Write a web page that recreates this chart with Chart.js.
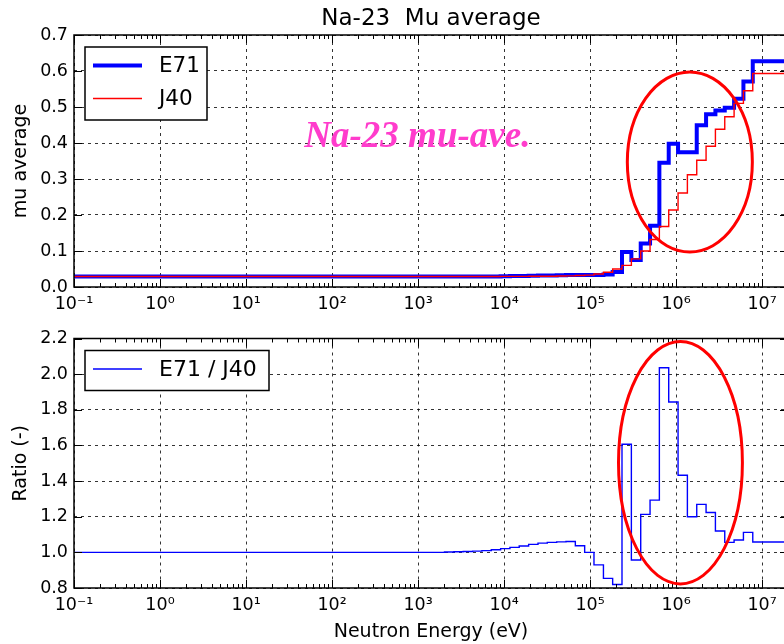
<!DOCTYPE html>
<html><head><meta charset="utf-8">
<script src="https://cdn.jsdelivr.net/npm/chart.js@4.4.1/dist/chart.umd.min.js"></script>
<style>
html,body{margin:0;padding:0;background:#fff;overflow:hidden;width:784px;height:644px;}
canvas{position:absolute;left:0;}
#top{top:0}
#bot{top:322px}
</style></head><body>
<canvas id="top" width="820" height="322"></canvas>
<canvas id="bot" width="820" height="322"></canvas>
<script>
// ---- data ----
// lower energy edges of each group (eV), plus the final upper edge
const groupEdges = [0.1, 1.0e3, 2.03e3, 2.61e3, 3.35e3, 4.31e3, 5.53e3, 7.10e3, 9.12e3,
  1.17e4, 1.50e4, 1.93e4, 2.48e4, 3.18e4, 4.09e4, 5.25e4, 6.74e4, 8.65e4,
  1.11e5, 1.43e5, 1.83e5, 2.35e5, 3.02e5, 3.88e5, 4.98e5, 6.39e5, 8.21e5,
  1.054e6, 1.353e6, 1.738e6, 2.231e6, 2.865e6, 3.679e6, 4.724e6, 6.065e6, 7.788e6, 2.0e7];
const muE71 = [0.029, 0.029, 0.029, 0.029, 0.029, 0.029, 0.029, 0.0295, 0.030,
  0.0303, 0.0306, 0.0313, 0.0316, 0.0317, 0.0323, 0.033, 0.033, 0.033,
  0.0335, 0.035, 0.042, 0.097, 0.075, 0.121, 0.170, 0.345, 0.398,
  0.374, 0.374, 0.449, 0.480, 0.490, 0.498, 0.523, 0.571, 0.627];
const muJ40 = [0.029, 0.029, 0.029, 0.029, 0.029, 0.029, 0.029, 0.029, 0.0295,
  0.0295, 0.0295, 0.030, 0.030, 0.030, 0.0305, 0.031, 0.032, 0.033,
  0.036, 0.041, 0.050, 0.060, 0.078, 0.100, 0.132, 0.168, 0.214,
  0.261, 0.312, 0.352, 0.391, 0.438, 0.473, 0.510, 0.545, 0.593];
const ratioE71J40 = [1.0, 1.0, 1.002, 1.003, 1.005, 1.007, 1.010, 1.015, 1.021,
  1.028, 1.036, 1.045, 1.052, 1.056, 1.059, 1.061, 1.037, 1.0,
  0.93, 0.854, 0.82, 1.607, 0.957, 1.213, 1.293, 2.036, 1.844,
  1.433, 1.2, 1.269, 1.224, 1.12, 1.056, 1.069, 1.112, 1.058];
const xTickValues = [0.1, 1, 10, 100, 1e3, 1e4, 1e5, 1e6, 1e7];
const xTickLabels = ['10\u207B\u00B9', '10\u2070', '10\u00B9', '10\u00B2', '10\u00B3', '10\u2074', '10\u2075', '10\u2076', '10\u2077'];
const muTicks = [0.0, 0.1, 0.2, 0.3, 0.4, 0.5, 0.6, 0.7];
const ratioTicks = [0.8, 1.0, 1.2, 1.4, 1.6, 1.8, 2.0, 2.2];
const xMin = 0.1, xMax = 2.0e7;

// ---- helpers ----
function steps(values) {
  const pts = values.map((v, i) => ({x: groupEdges[i], y: v}));
  pts.push({x: groupEdges[groupEdges.length - 1], y: values[values.length - 1]});
  return pts;
}
Chart.defaults.font.family = "'DejaVu Sans', sans-serif";
Chart.defaults.color = '#000';
Chart.defaults.animation = false;

const framePlugin = {
  id: 'frame',
  afterDatasetsDraw(chart) {
    const {ctx, chartArea: a, scales} = chart;
    const xs = scales.x, ys = scales.y;
    ctx.save();
    ctx.strokeStyle = '#000';
    ctx.lineWidth = 1;
    ctx.beginPath();
    for (let k = -1; k <= 7; k++) {
      for (let m = 2; m <= 9; m++) {
        const v = m * Math.pow(10, k);
        if (v >= xMax) continue;
        const px = Math.round(xs.getPixelForValue(v)) + 0.5;
        ctx.moveTo(px, a.bottom); ctx.lineTo(px, a.bottom - 4);
        ctx.moveTo(px, a.top); ctx.lineTo(px, a.top + 4);
      }
    }
    xTickValues.forEach(v => {
      const px = Math.round(xs.getPixelForValue(v)) + 0.5;
      ctx.moveTo(px, a.bottom); ctx.lineTo(px, a.bottom - 8);
      ctx.moveTo(px, a.top); ctx.lineTo(px, a.top + 8);
    });
    ys.ticks.forEach(t => {
      const py = Math.round(ys.getPixelForValue(t.value)) + 0.5;
      ctx.moveTo(a.left, py); ctx.lineTo(a.left + 8, py);
      ctx.moveTo(a.right, py); ctx.lineTo(a.right - 8, py);
    });
    ctx.stroke();
    ctx.lineWidth = 1.5;
    ctx.strokeRect(a.left, a.top, a.right - a.left, a.bottom - a.top);
    ctx.restore();
  }
};

const ellipsePlugin = {
  id: 'ellipse',
  afterDatasetsDraw(chart, args, opts) {
    const {ctx, scales} = chart;
    const x0 = scales.x.getPixelForValue(opts.xFrom), x1 = scales.x.getPixelForValue(opts.xTo);
    const y0 = scales.y.getPixelForValue(opts.yFrom), y1 = scales.y.getPixelForValue(opts.yTo);
    ctx.save();
    ctx.strokeStyle = '#ff0000';
    ctx.lineWidth = 3;
    ctx.beginPath();
    ctx.ellipse((x0 + x1) / 2, (y0 + y1) / 2, Math.abs(x1 - x0) / 2, Math.abs(y1 - y0) / 2, 0, 0, Math.PI * 2);
    ctx.stroke();
    ctx.restore();
  }
};

const boxLegendPlugin = {
  id: 'boxLegend',
  afterDraw(chart, args, opts) {
    const {ctx, chartArea: a} = chart;
    const L = a.left + 11, T = a.top + 12;
    ctx.save();
    ctx.fillStyle = '#fff';
    ctx.fillRect(L, T, opts.w, opts.h);
    ctx.strokeStyle = '#000';
    ctx.lineWidth = 1.5;
    ctx.strokeRect(L, T, opts.w, opts.h);
    ctx.font = opts.font + "px 'DejaVu Sans'";
    ctx.textBaseline = 'middle';
    opts.items.forEach((it, i) => {
      const y = T + opts.first + i * opts.gap;
      ctx.strokeStyle = it.color;
      ctx.lineWidth = it.width;
      ctx.beginPath();
      ctx.moveTo(L + 8, y); ctx.lineTo(L + 57, y);
      ctx.stroke();
      ctx.fillStyle = '#000';
      ctx.fillText(it.label, L + 74, y + 1);
    });
    ctx.restore();
  }
};

const notePlugin = {
  id: 'note',
  afterDatasetsDraw(chart, args, opts) {
    if (!opts.text) return;
    const {ctx, scales} = chart;
    ctx.save();
    ctx.font = "italic bold 37px 'Liberation Serif', 'Times New Roman', serif";
    ctx.fillStyle = '#ff3ccc';
    ctx.textBaseline = 'alphabetic';
    ctx.fillText(opts.text, scales.x.getPixelForValue(opts.x), scales.y.getPixelForValue(opts.y));
    ctx.restore();
  }
};

function xScale(withTitle, height) {
  return {
    type: 'logarithmic', min: xMin, max: xMax,
    afterBuildTicks: s => { s.ticks = xTickValues.map(v => ({value: v})); },
    afterFit: s => { s.height = height; },
    ticks: {
      autoSkip: false, maxRotation: 0, padding: 7,
      font: {size: 17.5},
      callback: (v) => { const i = xTickValues.indexOf(v); return i >= 0 ? xTickLabels[i] : ''; }
    },
    grid: {color: '#000', lineWidth: 0.8, drawTicks: false},
    border: {display: false, dash: [3, 4]},
    title: {display: withTitle, text: 'Neutron Energy (eV)', font: {size: 19}, padding: {top: 0, bottom: 1}}
  };
}
function yScale(ticksArr, title) {
  return {
    type: 'linear', min: ticksArr[0], max: ticksArr[ticksArr.length - 1],
    afterBuildTicks: s => { s.ticks = ticksArr.map(v => ({value: v})); },
    afterFit: s => { s.width = 74; },
    ticks: {padding: 6, font: {size: 17.5}, callback: v => Number(v).toFixed(1)},
    grid: {color: '#000', lineWidth: 0.8, drawTicks: false},
    border: {display: false, dash: [3, 4]},
    title: {display: true, text: title, font: {size: 19}, padding: {top: 10, bottom: 0}}
  };
}

new Chart(document.getElementById('top'), {
  type: 'line',
  data: {
    datasets: [
      {label: 'J40', data: steps(muJ40), borderColor: '#ff0000', borderWidth: 1.4, stepped: 'before', pointRadius: 0, fill: false, order: 0},
      {label: 'E71', data: steps(muE71), borderColor: '#0000ff', borderWidth: 4, stepped: 'before', pointRadius: 0, fill: false, order: 1}
    ]
  },
  options: {
    responsive: false,
    layout: {padding: {left: 0, right: 32, top: 0, bottom: 0}},
    scales: {x: xScale(false, 35), y: yScale(muTicks, 'mu average')},
    plugins: {
      legend: {display: false}, tooltip: {enabled: false},
      title: {display: true, fullSize: false, text: 'Na-23  Mu average', font: {size: 23, weight: 'normal'}, padding: {top: 5, bottom: 2.4}, color: '#000'},
      ellipse: {xFrom: 2.71e5, xTo: 7.7e6, yFrom: 0.097, yTo: 0.597},
      boxLegend: {w: 122, h: 73, font: 21.5, first: 18.5, gap: 33, items: [
        {label: 'E71', color: '#0000ff', width: 4},
        {label: 'J40', color: '#ff0000', width: 1.4}]},
      note: {text: 'Na-23 mu-ave.', x: 47.6, y: 0.39}
    }
  },
  plugins: [framePlugin, ellipsePlugin, notePlugin, boxLegendPlugin]
});

new Chart(document.getElementById('bot'), {
  type: 'line',
  data: {
    datasets: [
      {label: 'E71 / J40', data: steps(ratioE71J40), borderColor: '#0000ff', borderWidth: 1.4, stepped: 'before', pointRadius: 0, fill: false}
    ]
  },
  options: {
    responsive: false,
    layout: {padding: {left: 0, right: 32, top: 15, bottom: 0}},
    scales: {x: xScale(true, 56), y: yScale(ratioTicks, 'Ratio (-)')},
    plugins: {
      legend: {display: false}, tooltip: {enabled: false},
      ellipse: {xFrom: 2.14e5, xTo: 5.9e6, yFrom: 0.823, yTo: 2.183},
      boxLegend: {w: 184, h: 40, font: 22, first: 18.5, gap: 0, items: [
        {label: 'E71 / J40', color: '#0000ff', width: 1.4}]},
      note: {text: ''}
    }
  },
  plugins: [framePlugin, ellipsePlugin, boxLegendPlugin]
});
</script>
</body></html>
